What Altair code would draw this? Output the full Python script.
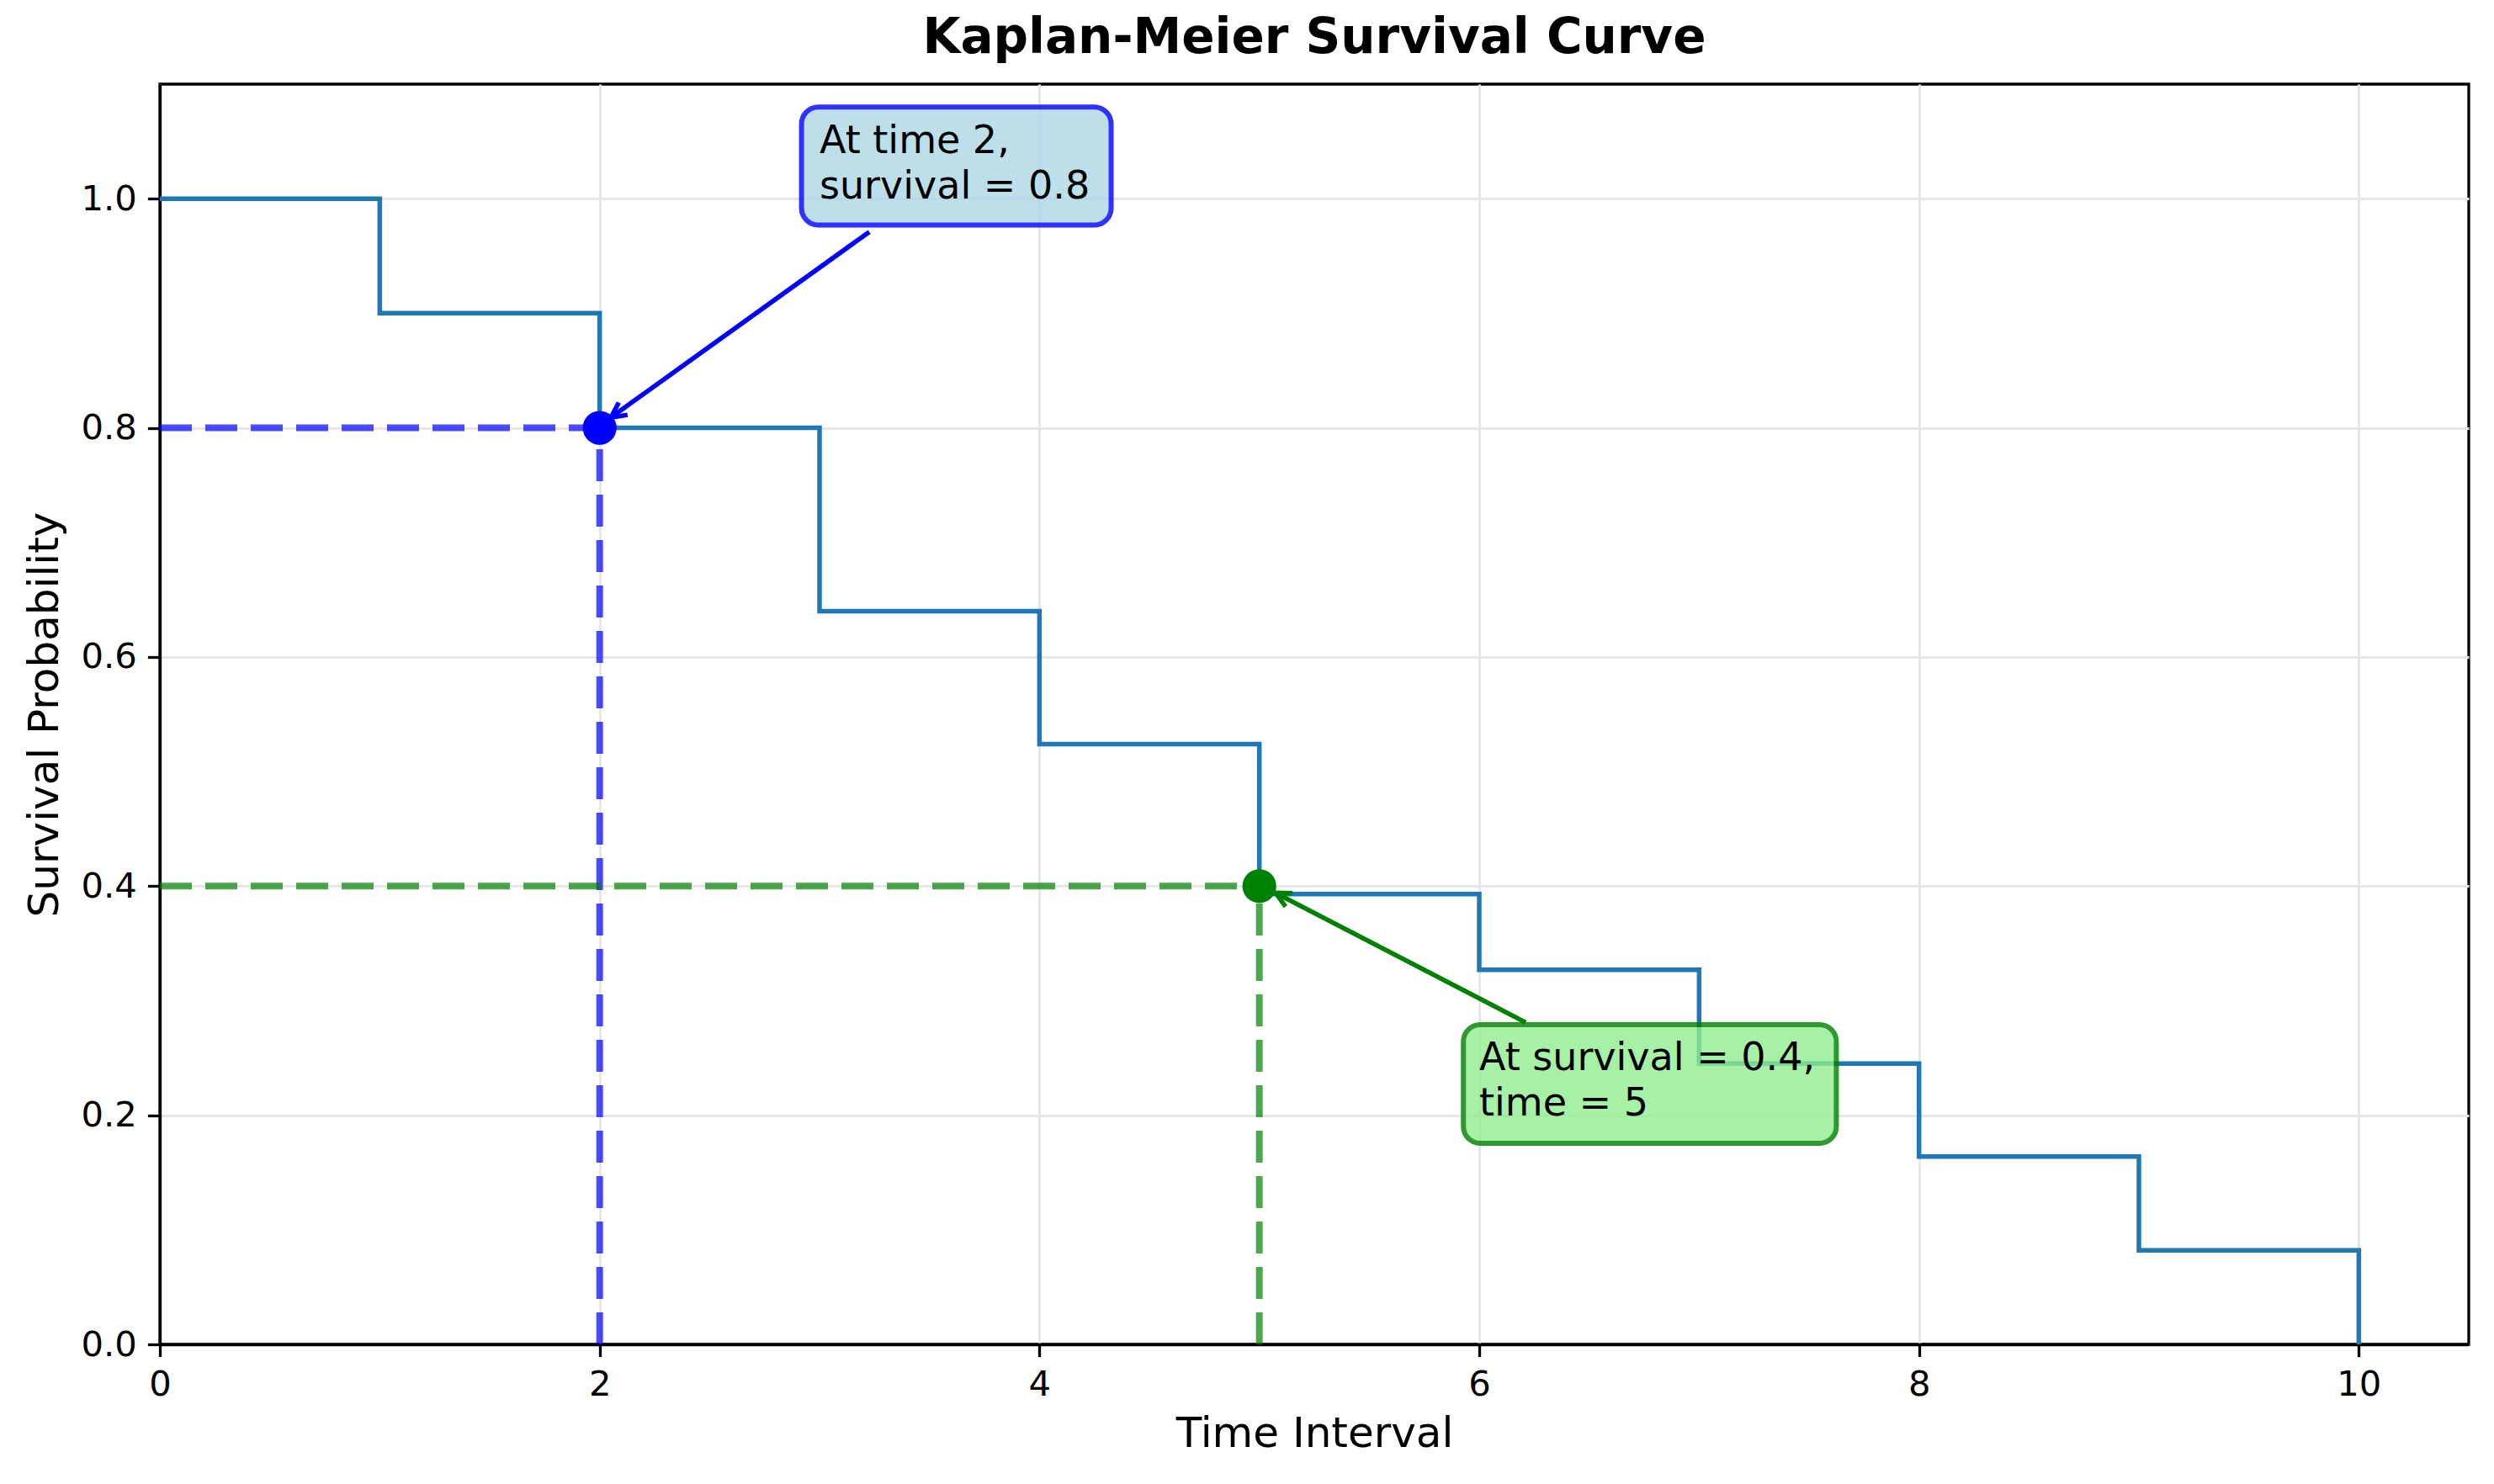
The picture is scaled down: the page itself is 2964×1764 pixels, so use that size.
import math
import altair as alt
import pandas as pd

# ---- data ----
time = [0, 1, 2, 3, 4, 5, 6, 7, 8, 9, 10]
survival = [1.0, 0.9, 0.8, 0.64, 0.524, 0.393, 0.327, 0.245, 0.164, 0.082, 0.0]

mark_time = [2, 5]
mark_surv = [0.8, 0.4]
mark_color = ["blue", "green"]

ann_text = ["At time 2,\nsurvival = 0.8", "At survival = 0.4,\ntime = 5"]
ann_text_x = [3.0, 6.0]
ann_text_y = [1.0, 0.2]
box_x = [2.918, 5.928]
box_x2 = [4.326, 7.624]
box_y = [0.977, 0.1755]
box_y2 = [1.080, 0.279]
box_fill = ["#add8e6", "#90ee90"]
box_stroke = ["blue", "green"]
arrow_x = [3.226, 6.211]
arrow_y = [0.971, 0.281]
arrow_x2 = [2.051, 5.074]
arrow_y2 = [0.809, 0.394]

x_ticks = [0, 2, 4, 6, 8, 10]
y_ticks = [0.0, 0.2, 0.4, 0.6, 0.8, 1.0]
XD = [0, 10.5]
YD = [0, 1.1]

W, H = 2744, 1498
FONT = "DejaVu Sans"

xs = alt.Scale(domain=XD, nice=False, zero=False)
ys = alt.Scale(domain=YD, nice=False, zero=False)


def X(f):
    return alt.X(f, type="quantitative", scale=xs, title="Time Interval",
                 axis=alt.Axis(values=x_ticks, format="d", labelFlush=False))


def Y(f):
    return alt.Y(f, type="quantitative", scale=ys, title="Survival Probability",
                 axis=alt.Axis(values=y_ticks, format=".1f", labelFlush=False))


curve = pd.DataFrame({"t": time, "s": survival})
step = alt.Chart(curve).mark_line(interpolate="step-after", color="#1f77b4",
                                  strokeWidth=5.5).encode(x=X("t"), y=Y("s"))

# dashed guide lines
rows = []
for t, s, c in zip(mark_time, mark_surv, mark_color):
    rows.append({"x": 0, "x2": t, "y": s, "y2": s, "c": c})
    rows.append({"x": t, "x2": t, "y": 0, "y2": s, "c": c})
guides = pd.DataFrame(rows)
guide = alt.Chart(guides).mark_rule(strokeDash=[38, 16], strokeWidth=8,
                                    opacity=0.7, strokeCap="butt").encode(
    x=X("x"), x2="x2", y=Y("y"), y2="y2", color=alt.Color("c:N", scale=None))

marks = pd.DataFrame({"t": mark_time, "s": mark_surv, "c": mark_color})
dots = alt.Chart(marks).mark_circle(size=1620, opacity=1).encode(
    x=X("t"), y=Y("s"), color=alt.Color("c:N", scale=None))

# arrows
px_x = W / (XD[1] - XD[0])
px_y = H / (YD[1] - YD[0])
angs = []
for a, b, a2, b2 in zip(arrow_x, arrow_y, arrow_x2, arrow_y2):
    dx = (a2 - a) * px_x
    dy = -(b2 - b) * px_y
    angs.append(math.degrees(math.atan2(dx, -dy)) % 360)
arr = pd.DataFrame({"x": arrow_x, "y": arrow_y, "x2": arrow_x2, "y2": arrow_y2,
                    "c": mark_color, "ang": angs})
arrow_line = alt.Chart(arr).mark_rule(strokeWidth=5.5).encode(
    x=X("x"), x2="x2", y=Y("y"), y2="y2", color=alt.Color("c:N", scale=None))
arrow_head = alt.Chart(arr).mark_point(shape="M-0.5,1L0,0L0.5,1", filled=False,
                                       size=1296, strokeWidth=5.5, opacity=1).encode(
    x=X("x2"), y=Y("y2"), color=alt.Color("c:N", scale=None),
    angle=alt.Angle("ang:Q", scale=None))

boxes = pd.DataFrame({"x": box_x, "x2": box_x2, "y": box_y, "y2": box_y2,
                      "f": box_fill, "s": box_stroke})
box = alt.Chart(boxes).mark_rect(cornerRadius=20, strokeWidth=6, opacity=0.8).encode(
    x=X("x"), x2="x2", y=Y("y"), y2="y2",
    fill=alt.Fill("f:N", scale=None), stroke=alt.Stroke("s:N", scale=None))

texts = pd.DataFrame({"x": ann_text_x, "y": ann_text_y, "txt": ann_text})
label = alt.Chart(texts).mark_text(align="left", baseline="alphabetic", lineBreak="\n",
                                   lineHeight=54, dy=-54, fontSize=46, font=FONT,
                                   color="black").encode(
    x=X("x"), y=Y("y"), text="txt:N")

chart = alt.layer(step, guide, dots, arrow_line, arrow_head, box, label).properties(
    width=W, height=H,
    title=alt.TitleParams("Kaplan-Meier Survival Curve", fontSize=58, font=FONT,
                          fontWeight="bold", color="black", offset=25, anchor="middle"),
    autosize=alt.AutoSizeParams(type="none"),
    padding={"left": 182, "top": 92, "right": 10, "bottom": 150},
).configure_view(stroke="black", strokeWidth=3.3).configure_axis(
    domainColor="black", domainWidth=3.3, tickColor="black", tickWidth=3.3,
    tickSize=14.6, labelFontSize=41.7, labelFont=FONT, labelColor="black",
    labelPadding=13, titleFontSize=50, titleFont=FONT, titleFontWeight="normal",
    titleColor="black", gridColor="#e6e6e6", gridWidth=3,
).configure_axisX(titlePadding=12).configure_axisY(titlePadding=18)

chart.save("out.html", embed_options={"renderer": "svg", "actions": False})
